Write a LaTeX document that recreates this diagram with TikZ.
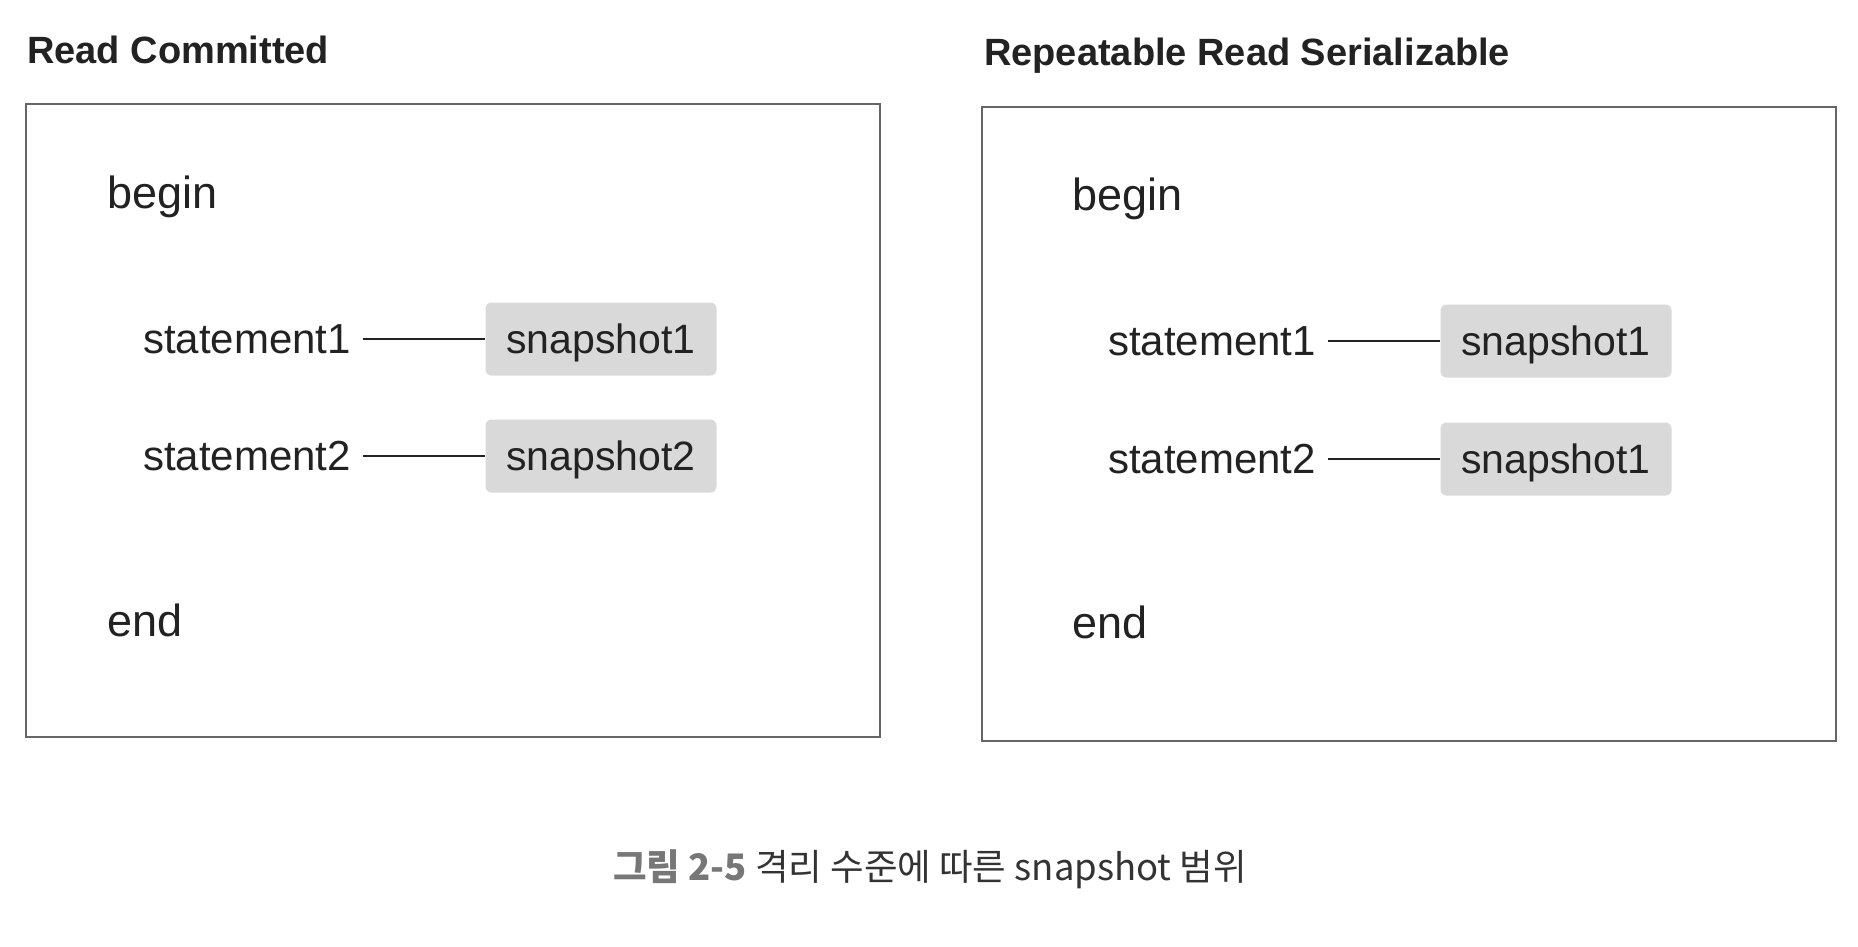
\documentclass[tikz,border=0pt]{standalone}
\usepackage{fontspec}
\setmainfont{Liberation Sans}
\newfontfamily\krfont{Noto Sans CJK KR}
\definecolor{txt}{HTML}{222222}
\definecolor{frame}{HTML}{666666}
\definecolor{snapfill}{HTML}{D9D9D9}
\definecolor{capgray}{HTML}{777777}
\definecolor{capdark}{HTML}{333333}
\tikzset{
  panel/.style={draw=frame, line width=1.5pt},
  paneltitle/.style={anchor=base west, inner sep=0pt, font=\fontsize{38}{44}\selectfont\bfseries, text=txt},
  kw/.style={anchor=west, inner sep=0pt, font=\fontsize{45}{52}\selectfont, text=txt},
  stmt/.style={anchor=west, inner sep=6pt, font=\fontsize{42}{48}\selectfont, text=txt},
  snapbox/.style={fill=snapfill, rounded corners=6pt, minimum width=231pt, minimum height=73pt, inner sep=0pt, text depth=0pt, font=\fontsize{41}{48}\selectfont, text=txt},
  link/.style={draw=txt, line width=1.5pt, shorten <=6pt}
}
\begin{document}
\begin{tikzpicture}[x=1pt,y=-1pt]
\useasboundingbox (0,0) rectangle (1858,946);
\fill[white] (0,0) rectangle (1858,946);
% left panel
\node[paneltitle] (t1) at (27,63) {Read Committed};
\draw[panel] (26,104) rectangle (880,737);
\node[kw] (b1) at (107,197) {begin};
\node[stmt] (s11) at (137,339) {statement1};
\node[stmt] (s12) at (137,456) {statement2};
\node[snapbox] (p11) at (601,339) {snapshot1};
\node[snapbox] (p12) at (601,456) {snapshot2};
\draw[link] (s11.east) -- (p11.west);
\draw[link] (s12.east) -- (p12.west);
\node[kw] (e1) at (107,620) {end};
% right panel
\node[paneltitle] (t2) at (984,65) {Repeatable Read Serializable};
\draw[panel] (982,107) rectangle (1836,741);
\node[kw] (b2) at (1072,199) {begin};
\node[stmt] (s21) at (1102,341) {statement1};
\node[stmt] (s22) at (1102,459) {statement2};
\node[snapbox] (p21) at (1556,341) {snapshot1};
\node[snapbox] (p22) at (1556,459) {snapshot1};
\draw[link] (s21.east) -- (p21.west);
\draw[link] (s22.east) -- (p22.west);
\node[kw] (e2) at (1072,622) {end};
% caption
\node[anchor=base, inner sep=0pt, font=\krfont\fontsize{36.5}{42}\selectfont, text=capdark] (cap) at (930,880) {{\bfseries\color{capgray}그림 2-5} 격리 수준에 따른 snapshot 범위};
\end{tikzpicture}
\end{document}
